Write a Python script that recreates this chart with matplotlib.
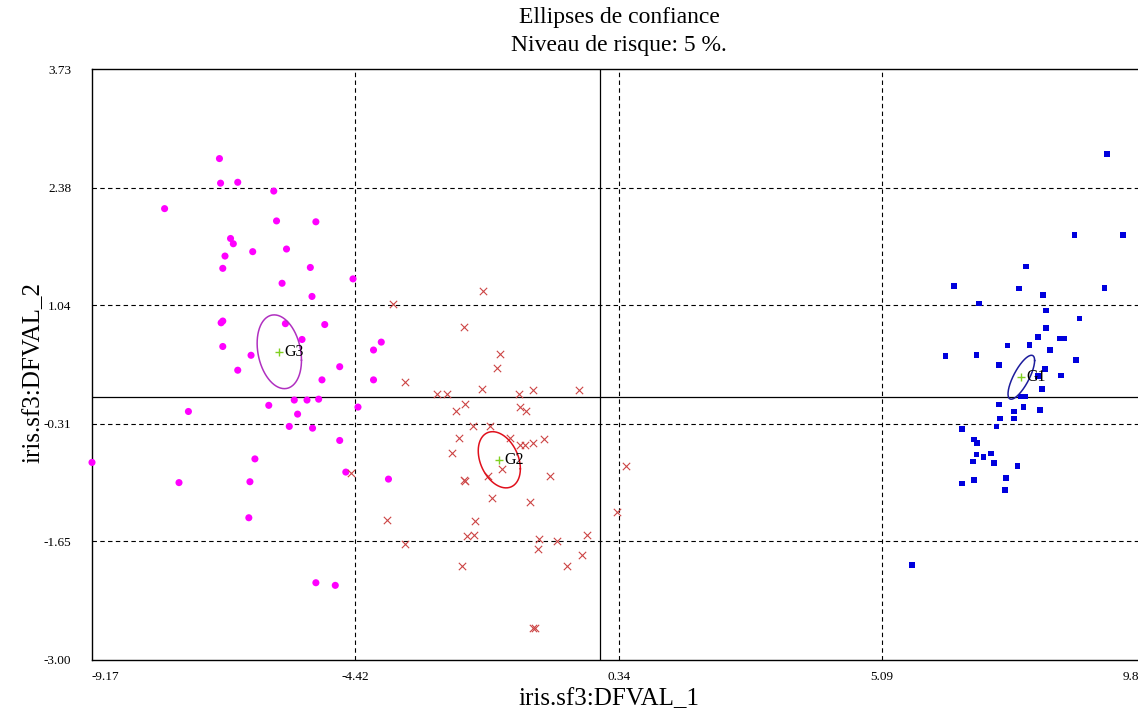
import numpy as np
import matplotlib
matplotlib.use("Agg")
import matplotlib.pyplot as plt

# ---------------- data ----------------
xticks = [-9.17, -4.42, 0.34, 5.09, 9.85]
yticks = [-3.00, -1.65, -0.31, 1.04, 2.38, 3.73]

g3_x = [-6.87, -6.85, -6.54, -5.89, -7.86, -5.84, -5.13, -6.67, -6.62, -6.27,
        -5.66, -6.77, -6.81, -5.23, -4.46, -5.74, -5.20, -6.84, -6.81, -5.68,
        -4.97, -5.38, -3.95, -4.09, -6.81, -6.30, -6.54, -4.70, -5.02, -4.09,
        -5.52, -5.29, -5.08, -5.98, -4.37, -7.43, -5.46, -5.61, -5.19, -4.70,
        -9.17, -6.23, -7.60, -6.32, -4.59, -3.82, -6.34, -5.13, -4.78]
g3_y = [2.71, 2.43, 2.44, 2.34, 2.14, 2.00, 1.99, 1.80, 1.74, 1.65,
        1.68, 1.60, 1.46, 1.47, 1.34, 1.29, 1.14, 0.84, 0.86, 0.83,
        0.82, 0.65, 0.62, 0.53, 0.57, 0.47, 0.30, 0.34, 0.19, 0.19,
        -0.04, -0.04, -0.03, -0.10, -0.12, -0.17, -0.20, -0.34, -0.36, -0.50,
        -0.75, -0.71, -0.98, -0.97, -0.86, -0.94, -1.38, -2.12, -2.15]

g2_x = [-2.11, -3.73, -2.45, -1.80, -1.86, -3.52, -2.94, -2.77, -2.14, -1.47,
        -1.21, -0.39, -2.44, -2.60, -1.45, -1.34, -2.30, -1.98, -2.55, -1.62,
        -1.44, -1.35, -1.22, -1.01, -2.68, -1.77, -2.03, -2.46, -2.44, -0.91,
        0.46, -4.49, -1.96, -1.27, -3.84, -2.26, -2.40, -2.28, 0.31, -3.52,
        -1.10, -0.78, -0.23, -1.12, -0.32, -2.49, -0.60, -1.21, -1.17]
g2_y = [1.20, 1.05, 0.79, 0.49, 0.32, 0.17, 0.03, 0.03, 0.09, 0.03,
        0.08, 0.08, -0.09, -0.17, -0.12, -0.16, -0.33, -0.34, -0.47, -0.47,
        -0.55, -0.55, -0.53, -0.48, -0.64, -0.82, -0.90, -0.95, -0.96, -0.90,
        -0.79, -0.87, -1.15, -1.20, -1.41, -1.42, -1.59, -1.58, -1.31, -1.68,
        -1.62, -1.65, -1.58, -1.74, -1.80, -1.93, -1.93, -2.63, -2.63]

g1_x = [9.14, 8.56, 9.44, 7.69, 6.39, 7.56, 9.10, 7.99, 6.83, 8.05,
        8.65, 8.05, 7.90, 8.29, 8.38, 7.35, 7.75, 8.12, 6.23, 6.79,
        8.59, 7.20, 8.03, 7.90, 8.31, 7.97, 7.59, 7.67, 7.20, 7.64,
        7.94, 7.47, 7.22, 7.47, 7.15, 6.53, 6.75, 6.80, 6.79, 6.92,
        7.05, 6.73, 7.11, 7.53, 7.32, 6.53, 6.75, 7.30, 5.63]
g1_y = [2.76, 1.84, 1.84, 1.48, 1.26, 1.23, 1.24, 1.16, 1.06, 0.98,
        0.89, 0.78, 0.68, 0.66, 0.66, 0.58, 0.59, 0.53, 0.46, 0.47,
        0.42, 0.36, 0.31, 0.23, 0.24, 0.09, 0.00, 0.00, -0.09, -0.12,
        -0.15, -0.17, -0.25, -0.25, -0.34, -0.37, -0.49, -0.53, -0.66, -0.69,
        -0.65, -0.74, -0.76, -0.79, -0.93, -0.99, -0.95, -1.06, -1.92]

# group centres and confidence ellipse parameters (half-axes along x / y, correlation)
group_names = ["G1", "G2", "G3"]
centre_x = [7.60, -1.82, -5.79]
centre_y = [0.22, -0.72, 0.51]
ell_sx = [0.24, 0.38, 0.40]
ell_sy = [0.25, 0.32, 0.42]
ell_rho = [0.76, -0.32, -0.23]
ell_colors = ["#1c1c9c", "#e0101c", "#b030c0"]

# ---------------- figure ----------------
serif = ["Liberation Serif", "DejaVu Serif"]
plt.rcParams["font.family"] = serif

W, H = 1138, 712
fig = plt.figure(figsize=(W / 100, H / 100), dpi=100)
ax_left, ax_right, ax_top, ax_bottom = 92, 1146, 69, 660
ax = fig.add_axes([ax_left / W, 1 - ax_bottom / H,
                   (ax_right - ax_left) / W, (ax_bottom - ax_top) / H])
ax.set_xlim(xticks[0], xticks[-1])
ax.set_ylim(yticks[0], yticks[-1])

dash = (0, (4, 3))
for xv in xticks[1:-1]:
    ax.axvline(xv, color="black", lw=0.8, ls=dash, zorder=1)
for yv in yticks[1:-1]:
    ax.axhline(yv, color="black", lw=0.8, ls=dash, zorder=1)
ax.axvline(0, color="black", lw=0.9, zorder=1)
ax.axhline(0, color="black", lw=0.9, zorder=1)

ax.scatter(g3_x, g3_y, s=26, marker="o", color="#ff00ff", edgecolors="none", zorder=3, clip_on=False)
ax.scatter(g2_x, g2_y, s=28, marker="x", color="#cc4444", linewidths=0.8, zorder=3)
ax.scatter(g1_x, g1_y, s=17, marker="s", color="#0000dd", edgecolors="none", zorder=3)

t = np.linspace(0, 2 * np.pi, 200)
for name, cx, cy, sx, sy, r, c in zip(group_names, centre_x, centre_y,
                                       ell_sx, ell_sy, ell_rho, ell_colors):
    ex = cx + sx * np.cos(t)
    ey = cy + sy * (r * np.cos(t) + np.sqrt(1 - r * r) * np.sin(t))
    ax.plot(ex, ey, color=c, lw=1.1, zorder=4)
    ax.plot([cx], [cy], marker="+", ms=6, mew=1.0, color="#80d020", zorder=5)
    ax.annotate(name, (cx, cy), xytext=(4, 0), textcoords="offset points",
                ha="left", va="center", fontsize=11.5, family=serif, zorder=6)

ax.set_xticks(xticks)
ax.set_xticklabels([f"{v:.2f}" for v in xticks], fontsize=9.5)
ax.set_yticks(yticks)
ax.set_yticklabels([f"{v:.2f}" for v in yticks], fontsize=9.5)
ax.tick_params(axis="both", length=0)
ax.tick_params(axis="x", pad=8)
ax.tick_params(axis="y", pad=15)
xl = ax.get_xticklabels()
xl[0].set_ha("left")
xl[-1].set_ha("right")

for sp in ax.spines.values():
    sp.set_linewidth(1.0)
    sp.set_color("black")

fig.text((ax_left + ax_right) / 2 / W, 1 - 17 / H, "Ellipses de confiance",
         ha="center", va="center", fontsize=17)
fig.text((ax_left + ax_right) / 2 / W, 1 - 45 / H, "Niveau de risque: 5 %.",
         ha="center", va="center", fontsize=17)
fig.text(609 / W, 1 - 699 / H, "iris.sf3:DFVAL_1", ha="center", va="center", fontsize=18)
fig.text(33 / W, 1 - 372 / H, "iris.sf3:DFVAL_2", ha="center", va="center",
         fontsize=18, rotation=90)

fig.savefig("out.png", dpi=100)
